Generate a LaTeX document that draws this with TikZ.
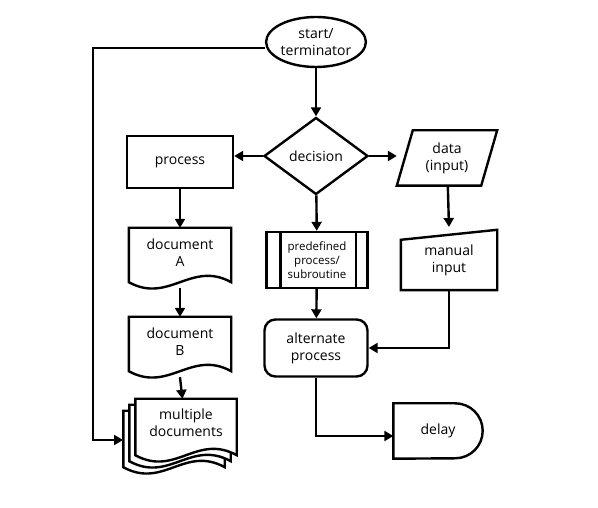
\documentclass[tikz,border=0pt]{standalone}
\usepackage{fontspec}
\setmainfont{Open Sans}
\usetikzlibrary{arrows.meta,shapes.geometric}
\tikzset{
  ln/.style={line width=2.4pt, line join=miter},
  arr/.style={ln, -{Triangle[length=9pt,width=10pt]}},
  lbl/.style={align=center, font=\fontsize{14}{17}\selectfont, inner sep=0pt},
}
% document shape drawn round a named node, shifted by #1
\newcommand{\docpath}[2][0pt]{%
  \draw[ln, fill=white] ([shift={(-#1,-#1)}]#2.north west) -- ([shift={(-#1,-#1)}]#2.north east)
    -- ([shift={(-#1,8pt-#1)}]#2.south east)
    .. controls ([shift={(-40pt-#1,30pt-#1)}]#2.south east) and ([shift={(40pt-#1,-14pt-#1)}]#2.south west)
    .. ([shift={(-#1,8pt-#1)}]#2.south west) -- cycle;}
\begin{document}
\begin{tikzpicture}[x=1pt,y=1pt]
\useasboundingbox (0,0) rectangle (598,508);
% terminator and decision
\node[ln, draw, ellipse, minimum width=96, minimum height=50, lbl] (start) at (316,466) {start/\\terminator};
\node[ln, draw, diamond, aspect=1.35, minimum width=104, minimum height=77, lbl] (dec) at (316,352) {decision};
\node[ln, draw, minimum width=106, minimum height=52, lbl] (proc) at (180,346) {process};
% data (input)
\node[minimum width=100, minimum height=55, lbl] (data) at (447,350) {data\\(input)};
\draw[ln] ([xshift=16pt]data.north west) -- (data.north east) -- ([xshift=-16pt]data.south east) -- (data.south west) -- cycle;
% predefined process
\node[ln, draw, minimum width=101, minimum height=56, lbl, font=\fontsize{11.5}{14}\selectfont] (pre) at (317,248) {predefined\\process/\\subroutine};
\draw[ln] ([xshift=15pt]pre.north west) -- ([xshift=15pt]pre.south west);
\draw[ln] ([xshift=-13pt]pre.north east) -- ([xshift=-13pt]pre.south east);
% manual input
\node[minimum width=96, minimum height=60, lbl] (man) at (449,248) {manual\\input};
\draw[ln] ([yshift=-10pt]man.north west) -- (man.north east) -- (man.south east) -- (man.south west) -- cycle;
% alternate process and delay
\node[ln, draw, rounded corners=11pt, minimum width=103, minimum height=57, lbl] (alt) at (316,160) {alternate\\process};
\node[minimum width=89, minimum height=55, lbl, xshift=-6pt] (delay) at (444,77) {delay};
\draw[ln] (delay.south west) -- (delay.north west) -- ([xshift=-27.5pt]delay.north east)
  arc[start angle=90, end angle=-90, radius=27.5pt] -- cycle;
% documents
\node[minimum width=102, minimum height=62] (docA) at (180,249) {};
\docpath{docA}
\node[lbl] at ([yshift=6pt]docA) {document\\A};
\node[minimum width=102, minimum height=62] (docB) at (180,160) {};
\docpath{docB}
\node[lbl] at ([yshift=6pt]docB) {document\\B};
\node[minimum width=101, minimum height=64] (multi) at (186,77) {};
\docpath[12pt]{multi}
\docpath[6pt]{multi}
\docpath{multi}
\node[lbl] at ([yshift=8pt]multi) {multiple\\documents};
% connectors
\coordinate (loop) at (123,68);
\draw[arr] (start) -- (dec);
\draw[arr] (dec.west) -- (proc.east |- dec.west);
\draw[arr] (dec.east) -- (data.west |- dec.east);
\draw[arr] (dec) -- (pre);
\draw[arr] (proc) -- (docA);
\draw[arr] ([yshift=2pt]docA.south) -- (docB);
\draw[arr] ([yshift=2pt]docB.south) -- (multi);
\draw[arr] (data) -- (man.north |- 0,281);
\draw[arr] (pre) -- (alt);
\draw[arr] (man.south) |- (alt.east);
\draw[arr] (alt.south) |- ([yshift=-5pt]delay.west);
\draw[arr] ([yshift=-6pt]start.west) -| (93,68) -- (loop);
\end{tikzpicture}
\end{document}
